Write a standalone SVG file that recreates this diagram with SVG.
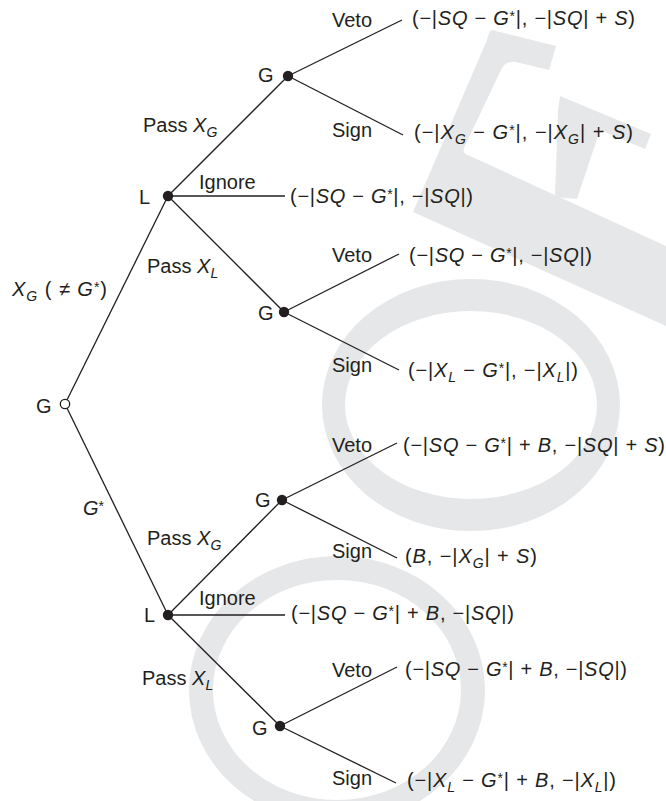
<svg xmlns="http://www.w3.org/2000/svg" width="666" height="801" viewBox="0 0 666 801">
<style>
.t{font-family:"Liberation Sans",Arial,sans-serif;font-size:20px;fill:#231f20}
.i{font-style:italic}
.sub{font-size:14px;font-style:italic}
.st{font-size:14px}
.e{stroke:#231f20;stroke-width:1.3;fill:none}
.dot{fill:#231f20}
.wm{fill:#e6e7e8;fill-rule:evenodd}
</style>
<rect width="666" height="801" fill="#fff"/>
<g id="watermark">
<path class="wm" d="M322,405 a149,126 0 1,0 298,0 a149,126 0 1,0 -298,0 Z M345,405 a126,94 0 1,0 252,0 a126,94 0 1,0 -252,0 Z"/>
<path class="wm" d="M189,690 a148,134 0 1,0 296,0 a148,134 0 1,0 -296,0 Z M213,690 a124,110 0 1,0 248,0 a124,110 0 1,0 -248,0 Z"/>
<path class="wm" d="M492,30 L556,46 L549,70 L516,62 Q504,60 500,72 L464,148 Q462,154 470,156 L666,246 L666,326 L413,212 L487,40 Q489,31 492,30 Z"/>
<path class="wm" d="M560,96 L651,134 L645,149 L600,130 L577,199 L555,197 L558,110 Z"/>
</g>
<g id="connectors">
<line class="e" x1="65" y1="404" x2="168" y2="196"/>
<line class="e" x1="65" y1="404" x2="168" y2="615"/>
<line class="e" x1="168" y1="196" x2="288" y2="76"/>
<line class="e" x1="168" y1="196" x2="285" y2="196"/>
<line class="e" x1="168" y1="196" x2="284" y2="312"/>
<line class="e" x1="288" y1="76" x2="402" y2="20"/>
<line class="e" x1="288" y1="76" x2="403" y2="135"/>
<line class="e" x1="284" y1="312" x2="399" y2="254"/>
<line class="e" x1="284" y1="312" x2="399" y2="370"/>
<line class="e" x1="168" y1="615" x2="282" y2="500"/>
<line class="e" x1="168" y1="615" x2="285" y2="615"/>
<line class="e" x1="168" y1="615" x2="280" y2="726"/>
<line class="e" x1="282" y1="500" x2="397" y2="443"/>
<line class="e" x1="282" y1="500" x2="397" y2="558"/>
<line class="e" x1="280" y1="726" x2="397" y2="667"/>
<line class="e" x1="280" y1="726" x2="396" y2="783"/>
<text class="t" x="12" y="296" textLength="95" lengthAdjust="spacing"><tspan class="i">X</tspan><tspan class="sub" dy="5">G</tspan><tspan dy="-5"> ( ≠ </tspan><tspan class="i">G</tspan><tspan class="st" dy="-4">*</tspan><tspan dy="4">)</tspan></text>
<text class="t" x="83" y="515"><tspan class="i">G</tspan><tspan class="st" dy="-4">*</tspan></text>
<text class="t" x="143" y="132">Pass <tspan class="i">X</tspan><tspan class="sub" dy="5">G</tspan></text>
<text class="t" x="199" y="189">Ignore</text>
<text class="t" x="147" y="273">Pass <tspan class="i">X</tspan><tspan class="sub" dy="5">L</tspan></text>
<text class="t" x="147" y="545">Pass <tspan class="i">X</tspan><tspan class="sub" dy="5">G</tspan></text>
<text class="t" x="199" y="605">Ignore</text>
<text class="t" x="142" y="685">Pass <tspan class="i">X</tspan><tspan class="sub" dy="5">L</tspan></text>
<text class="t" x="332" y="27">Veto</text>
<text class="t" x="332" y="137">Sign</text>
<text class="t" x="332" y="262">Veto</text>
<text class="t" x="332" y="372">Sign</text>
<text class="t" x="332" y="452">Veto</text>
<text class="t" x="332" y="558">Sign</text>
<text class="t" x="332" y="677">Veto</text>
<text class="t" x="332" y="785">Sign</text>
</g>
<g id="root">
<circle cx="65" cy="404" r="4.7" fill="#fff" stroke="#231f20" stroke-width="1.3"/>
<text class="t" x="36" y="413">G</text>
</g>
<g id="L1">
<circle class="dot" cx="168" cy="196" r="5.2"/>
<text class="t" x="139" y="204">L</text>
</g>
<g id="G1">
<circle class="dot" cx="288" cy="76" r="5.2"/>
<text class="t" x="258" y="82">G</text>
</g>
<g id="G2">
<circle class="dot" cx="284" cy="312" r="5.2"/>
<text class="t" x="258" y="320">G</text>
</g>
<g id="L2">
<circle class="dot" cx="168" cy="615" r="5.2"/>
<text class="t" x="144" y="622">L</text>
</g>
<g id="G3">
<circle class="dot" cx="282" cy="500" r="5.2"/>
<text class="t" x="255" y="507">G</text>
</g>
<g id="G4">
<circle class="dot" cx="280" cy="726" r="5.2"/>
<text class="t" x="252" y="735">G</text>
</g>
<g id="payoff1"><text class="t" x="412" y="25" textLength="223" lengthAdjust="spacing">(−|<tspan class="i">SQ</tspan> − <tspan class="i">G</tspan><tspan class="st" dy="-4">*</tspan><tspan dy="4">|, −|</tspan><tspan class="i">SQ</tspan>| + <tspan class="i">S</tspan>)</text></g>
<g id="payoff2"><text class="t" x="414" y="139" textLength="219" lengthAdjust="spacing">(−|<tspan class="i">X</tspan><tspan class="sub" dy="5">G</tspan><tspan dy="-5"> − </tspan><tspan class="i">G</tspan><tspan class="st" dy="-4">*</tspan><tspan dy="4">|, −|</tspan><tspan class="i">X</tspan><tspan class="sub" dy="5">G</tspan><tspan dy="-5">| + </tspan><tspan class="i">S</tspan>)</text></g>
<g id="payoff3"><text class="t" x="290" y="203" textLength="183" lengthAdjust="spacing">(−|<tspan class="i">SQ</tspan> − <tspan class="i">G</tspan><tspan class="st" dy="-4">*</tspan><tspan dy="4">|, −|</tspan><tspan class="i">SQ</tspan>|)</text></g>
<g id="payoff4"><text class="t" x="409" y="262" textLength="183" lengthAdjust="spacing">(−|<tspan class="i">SQ</tspan> − <tspan class="i">G</tspan><tspan class="st" dy="-4">*</tspan><tspan dy="4">|, −|</tspan><tspan class="i">SQ</tspan>|)</text></g>
<g id="payoff5"><text class="t" x="408" y="377" textLength="170" lengthAdjust="spacing">(−|<tspan class="i">X</tspan><tspan class="sub" dy="5">L</tspan><tspan dy="-5"> − </tspan><tspan class="i">G</tspan><tspan class="st" dy="-4">*</tspan><tspan dy="4">|, −|</tspan><tspan class="i">X</tspan><tspan class="sub" dy="5">L</tspan><tspan dy="-5">|)</tspan></text></g>
<g id="payoff6"><text class="t" x="403" y="452" textLength="262" lengthAdjust="spacing">(−|<tspan class="i">SQ</tspan> − <tspan class="i">G</tspan><tspan class="st" dy="-4">*</tspan><tspan dy="4">| + </tspan><tspan class="i">B</tspan>, −|<tspan class="i">SQ</tspan>| + <tspan class="i">S</tspan>)</text></g>
<g id="payoff7"><text class="t" x="405" y="563" textLength="132" lengthAdjust="spacing">(<tspan class="i">B</tspan>, −|<tspan class="i">X</tspan><tspan class="sub" dy="5">G</tspan><tspan dy="-5">| + </tspan><tspan class="i">S</tspan>)</text></g>
<g id="payoff8"><text class="t" x="291" y="620" textLength="223" lengthAdjust="spacing">(−|<tspan class="i">SQ</tspan> − <tspan class="i">G</tspan><tspan class="st" dy="-4">*</tspan><tspan dy="4">| + </tspan><tspan class="i">B</tspan>, −|<tspan class="i">SQ</tspan>|)</text></g>
<g id="payoff9"><text class="t" x="405" y="676" textLength="222" lengthAdjust="spacing">(−|<tspan class="i">SQ</tspan> − <tspan class="i">G</tspan><tspan class="st" dy="-4">*</tspan><tspan dy="4">| + </tspan><tspan class="i">B</tspan>, −|<tspan class="i">SQ</tspan>|)</text></g>
<g id="payoff10"><text class="t" x="407" y="787" textLength="209" lengthAdjust="spacing">(−|<tspan class="i">X</tspan><tspan class="sub" dy="5">L</tspan><tspan dy="-5"> − </tspan><tspan class="i">G</tspan><tspan class="st" dy="-4">*</tspan><tspan dy="4">| + </tspan><tspan class="i">B</tspan>, −|<tspan class="i">X</tspan><tspan class="sub" dy="5">L</tspan><tspan dy="-5">|)</tspan></text></g>
</svg>
